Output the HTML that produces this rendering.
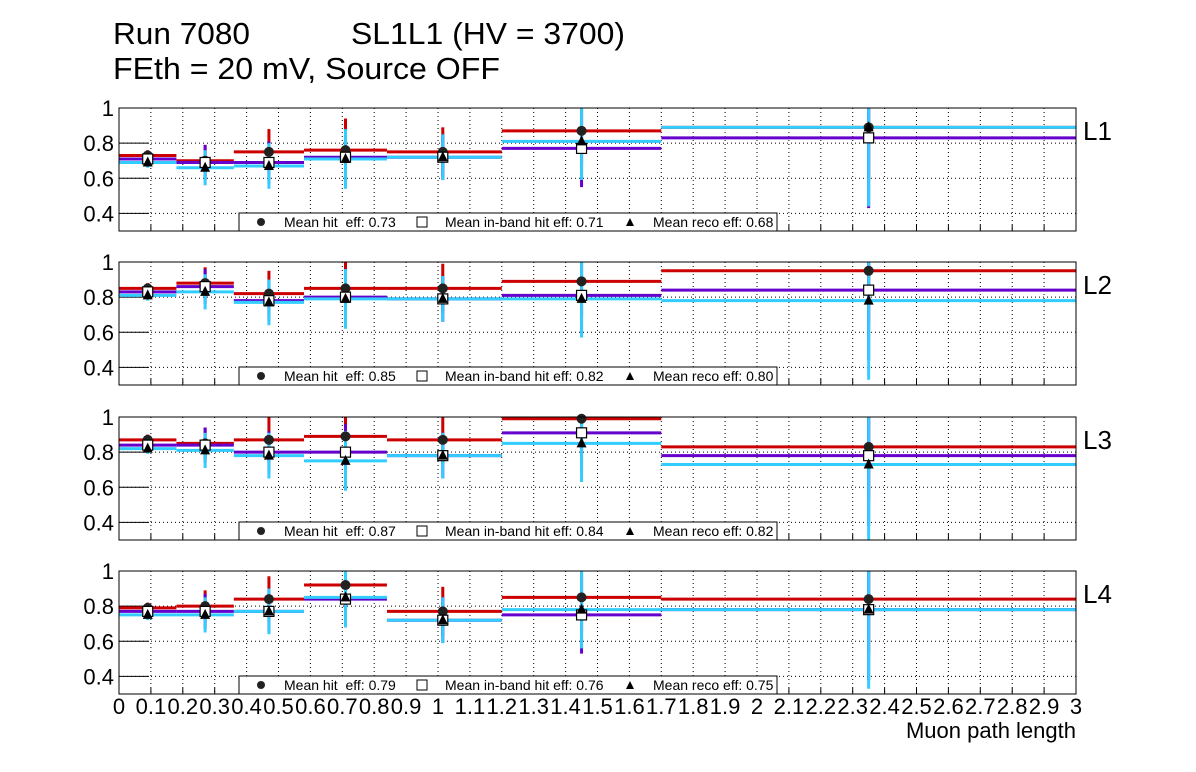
<!DOCTYPE html>
<html><head><meta charset="utf-8">
<style>
body{margin:0;background:#fff;}
svg{display:block;font-family:"Liberation Sans",sans-serif;}
text{white-space:pre;}
</style></head>
<body>
<svg id="c" width="1196" height="772">
<text x="113" y="44" font-size="31" textLength="137" lengthAdjust="spacingAndGlyphs">Run 7080</text>
<text x="351" y="44" font-size="31" textLength="274" lengthAdjust="spacingAndGlyphs">SL1L1 (HV = 3700)</text>
<text x="113" y="79" font-size="31" textLength="387" lengthAdjust="spacingAndGlyphs">FEth = 20 mV, Source OFF</text>
<text x="1076" y="738" font-size="22" text-anchor="end">Muon path length</text>
</svg>
<script>
const binEdges=[0,0.18,0.36,0.58,0.84,1.2,1.7,3];
const binCenters=[0.09,0.27,0.47,0.71,1.015,1.45,2.35];
const layerNames=["L1","L2","L3","L4"];
const hitL1=[0.73,0.70,0.75,0.76,0.75,0.87,0.89];
const inbL1=[0.71,0.69,0.69,0.72,0.72,0.77,0.83];
const recoL1=[0.69,0.66,0.67,0.71,0.72,0.81,0.89];
const hitL2=[0.85,0.88,0.82,0.85,0.85,0.89,0.95];
const inbL2=[0.83,0.86,0.78,0.80,0.79,0.81,0.84];
const recoL2=[0.81,0.83,0.77,0.79,0.79,0.79,0.78];
const hitL3=[0.87,0.85,0.87,0.89,0.87,0.99,0.83];
const inbL3=[0.84,0.84,0.80,0.80,0.78,0.91,0.78];
const recoL3=[0.82,0.81,0.78,0.75,0.78,0.85,0.73];
const hitL4=[0.79,0.80,0.84,0.92,0.77,0.85,0.84];
const inbL4=[0.77,0.77,0.77,0.84,0.72,0.75,0.78];
const recoL4=[0.75,0.75,0.77,0.85,0.72,0.78,0.78];
const errHit=[0.03,0.09,0.13,0.18,0.14,0.2,0.3];
const errInb=[0.03,0.1,0.12,0.16,0.13,0.22,0.4];
const errReco=[0.03,0.1,0.13,0.17,0.13,0.22,0.45];
const meanHit=["0.73","0.85","0.87","0.79"];
const meanInb=["0.71","0.82","0.84","0.76"];
const meanReco=["0.68","0.80","0.82","0.75"];
const yTicks=[0.4,0.6,0.8,1];
const xTickLabels=["0","0.1","0.2","0.3","0.4","0.5","0.6","0.7","0.8","0.9","1","1.1","1.2","1.3","1.4","1.5","1.6","1.7","1.8","1.9","2","2.1","2.2","2.3","2.4","2.5","2.6","2.7","2.8","2.9","3"];

const hits=[hitL1,hitL2,hitL3,hitL4],inbs=[inbL1,inbL2,inbL3,inbL4],recos=[recoL1,recoL2,recoL3,recoL4];
const svg=document.getElementById('c');
const NS="http://www.w3.org/2000/svg";
const X0=119,X1=1076;
const padTops=[108,262,417,571];
const PH=123,YMIN=0.3,YMAX=1.0;
function sx(v){return X0+(v-0)/(3-0)*(X1-X0);}
function mk(tag,at,parent){const e=document.createElementNS(NS,tag);for(const k in at)e.setAttribute(k,at[k]);(parent||svg).appendChild(e);return e;}
const RED="#cc0000",PUR="#6600cc",CYA="#33ccff";
for(let p=0;p<4;p++){
  const top=padTops[p];
  const sy=v=>top+(YMAX-v)/(YMAX-YMIN)*PH;
  const g=mk('g',{});
  
  
  for(let i=1;i<30;i++){const l=mk('line',{x1:sx(i/10),x2:sx(i/10),y1:top,y2:top+PH,stroke:"#000","stroke-width":1,"stroke-dasharray":"1,3"},g);
    
    mk('line',{x1:sx(i/10),x2:sx(i/10),y1:top+PH,y2:top+PH-6,stroke:"#000"},g);}
  yTicks.forEach(t=>{
    const l=mk('line',{x1:X0,x2:X1,y1:sy(t),y2:sy(t),stroke:"#000","stroke-dasharray":"1,3"},g);
    
    mk('line',{x1:X0,x2:X0+30,y1:sy(t),y2:sy(t),stroke:"#000"},g);
    const tx=mk('text',{x:114,y:sy(t)+8,"font-size":22,"text-anchor":"end"},g);
    tx.textContent=(t===1?"1":t.toFixed(1));
    
  });
  const ser=[[hits[p],errHit,RED],[inbs[p],errInb,PUR],[recos[p],errReco,CYA]];
  ser.forEach(([vals,err,col])=>{
    vals.forEach((v,i)=>{
      const c=sx(binCenters[i]);
      const lo=Math.max(v-err[i],YMIN),hi=Math.min(v+err[i],YMAX);
      const e=mk('line',{x1:c,x2:c,y1:sy(lo),y2:sy(hi),stroke:col,"stroke-width":3},g);
      
    });
  });
  ser.forEach(([vals,err,col])=>{
    vals.forEach((v,i)=>{
      const b=mk('line',{x1:sx(binEdges[i]),x2:sx(binEdges[i+1]),y1:sy(v),y2:sy(v),stroke:col,"stroke-width":3},g);
      
    });
  });
  hits[p].forEach((v,i)=>{const m=mk('circle',{cx:sx(binCenters[i]),cy:sy(v),r:5,fill:"#222"},g);
    });
  inbs[p].forEach((v,i)=>{const m=mk('rect',{x:sx(binCenters[i])-5,y:sy(v)-5,width:10,height:10,fill:"#fff",stroke:"#000","stroke-width":1.2},g);
    });
  recos[p].forEach((v,i)=>{const c=sx(binCenters[i]),y=sy(v);
    const m=mk('polygon',{points:`${c-5},${y+4} ${c+5},${y+4} ${c},${y-6}`,fill:"#000"},g);
    });
  const f=mk('rect',{x:X0,y:top,width:X1-X0,height:PH,fill:"none",stroke:"#000","stroke-width":1},g);
  
  const lg=mk('g',{},g);
  
  mk('rect',{x:239,y:top+PH-18,width:538,height:18,fill:"#fff",stroke:"#000"},lg);
  const ly=top+PH-9;
  mk('circle',{cx:261,cy:ly,r:4,fill:"#222"},lg);
  let t=mk('text',{x:284,y:ly+5,"font-size":14},lg);t.textContent="Mean hit  eff: "+meanHit[p];
  mk('rect',{x:417,y:ly-5,width:10,height:10,fill:"#fff",stroke:"#000"},lg);
  t=mk('text',{x:445,y:ly+5,"font-size":14},lg);t.textContent="Mean in-band hit eff: "+meanInb[p];
  mk('polygon',{points:`${626},${ly+4} ${634},${ly+4} ${630},${ly-4}`,fill:"#000"},lg);
  t=mk('text',{x:653,y:ly+5,"font-size":14},lg);t.textContent="Mean reco eff: "+meanReco[p];
  const ln=mk('text',{x:1083,y:top+32,"font-size":26},g);ln.textContent=layerNames[p];
  
}
xTickLabels.forEach((s,i)=>{
  const t=mk('text',{x:sx(i/10),y:714,"font-size":22,"text-anchor":"middle"});
  t.textContent=s;
  
  
});
</script>
</body></html>
